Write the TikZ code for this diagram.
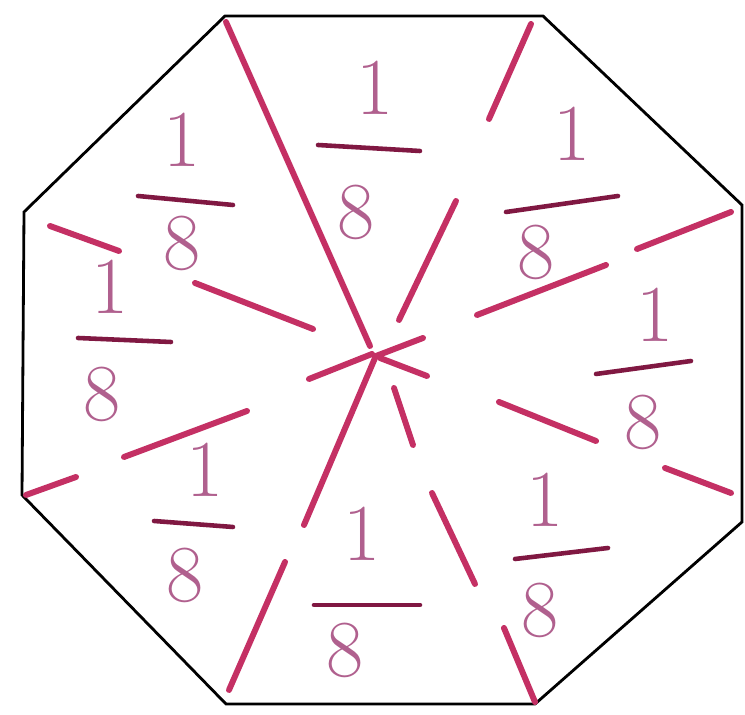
\documentclass[tikz,border=0pt]{standalone}
\usepackage{fontspec}
\usetikzlibrary{calc}
\definecolor{penred}{RGB}{196,48,100}
\definecolor{inkpink}{RGB}{176,96,142}
\definecolor{bardark}{RGB}{128,24,66}
\tikzset{
  octedge/.style={draw=black,line width=1.6pt,line join=miter},
  cutline/.style={draw=penred,line width=3.4pt,line cap=round},
  fracbar/.style={draw=bardark,line width=2.6pt,line cap=round},
  digit/.style={text=inkpink,font=\fontsize{46}{50}\selectfont,inner sep=0pt}
}
% one eighth: name, pos of 1, bar start, bar end, pos of 8
\newcommand{\eighthpart}[5]{%
  \node[digit] (#1one) at #2 {1};
  \draw[fracbar] #3 -- #4;
  \node[digit] (#1eight) at #5 {8};
}

\begin{document}
\begin{tikzpicture}[x=0.02cm,y=-0.02cm]
  \useasboundingbox (0,0) rectangle (745,715);

  % octagon
  \draw[octedge] (225,16) -- (543,16) -- (742,205) -- (742,522)
    -- (535,704) -- (226,704) -- (22,495) -- (24,212) -- cycle;

  % cuts from the middle to the corners
  \draw[cutline] (226,22) -- (370,346);
  \draw[cutline] (531,24) -- (489,119);
  \draw[cutline] (456,201) -- (399,320);
  \draw[cutline] (731,212) -- (637,249);
  \draw[cutline] (606,265) -- (477,315);
  \draw[cutline] (376,356) -- (423,338);
  \draw[cutline] (380,358) -- (427,376);
  \draw[cutline] (499,402) -- (596,441);
  \draw[cutline] (665,468) -- (731,493);
  \draw[cutline] (394,388) -- (413,445);
  \draw[cutline] (432,493) -- (475,584);
  \draw[cutline] (504,628) -- (535,702);
  \draw[cutline] (375,358) -- (304,525);
  \draw[cutline] (285,562) -- (229,690);
  \draw[cutline] (372,354) -- (309,379);
  \draw[cutline] (247,411) -- (124,457);
  \draw[cutline] (76,477) -- (26,495);
  \draw[cutline] (313,329) -- (195,283);
  \draw[cutline] (119,251) -- (50,226);

  % the eight parts
  \eighthpart{top}{(375,88)}{(318,145)}{(420,151)}{(356,212)}
  \eighthpart{upr}{(572,134)}{(506,212)}{(618,196)}{(536,252)}
  \eighthpart{rgt}{(655,315)}{(596,374)}{(691,361)}{(643,422)}
  \eighthpart{lor}{(545,500)}{(515,559)}{(608,548)}{(540,610)}
  \eighthpart{bot}{(362,534)}{(314,605)}{(420,605)}{(345,650)}
  \eighthpart{lol}{(205,470)}{(154,521)}{(233,527)}{(185,575)}
  \eighthpart{lft}{(110,287)}{(78,338)}{(171,342)}{(102,394)}
  \eighthpart{upl}{(182,140)}{(138,196)}{(233,205)}{(182,243)}
\end{tikzpicture}
\end{document}
